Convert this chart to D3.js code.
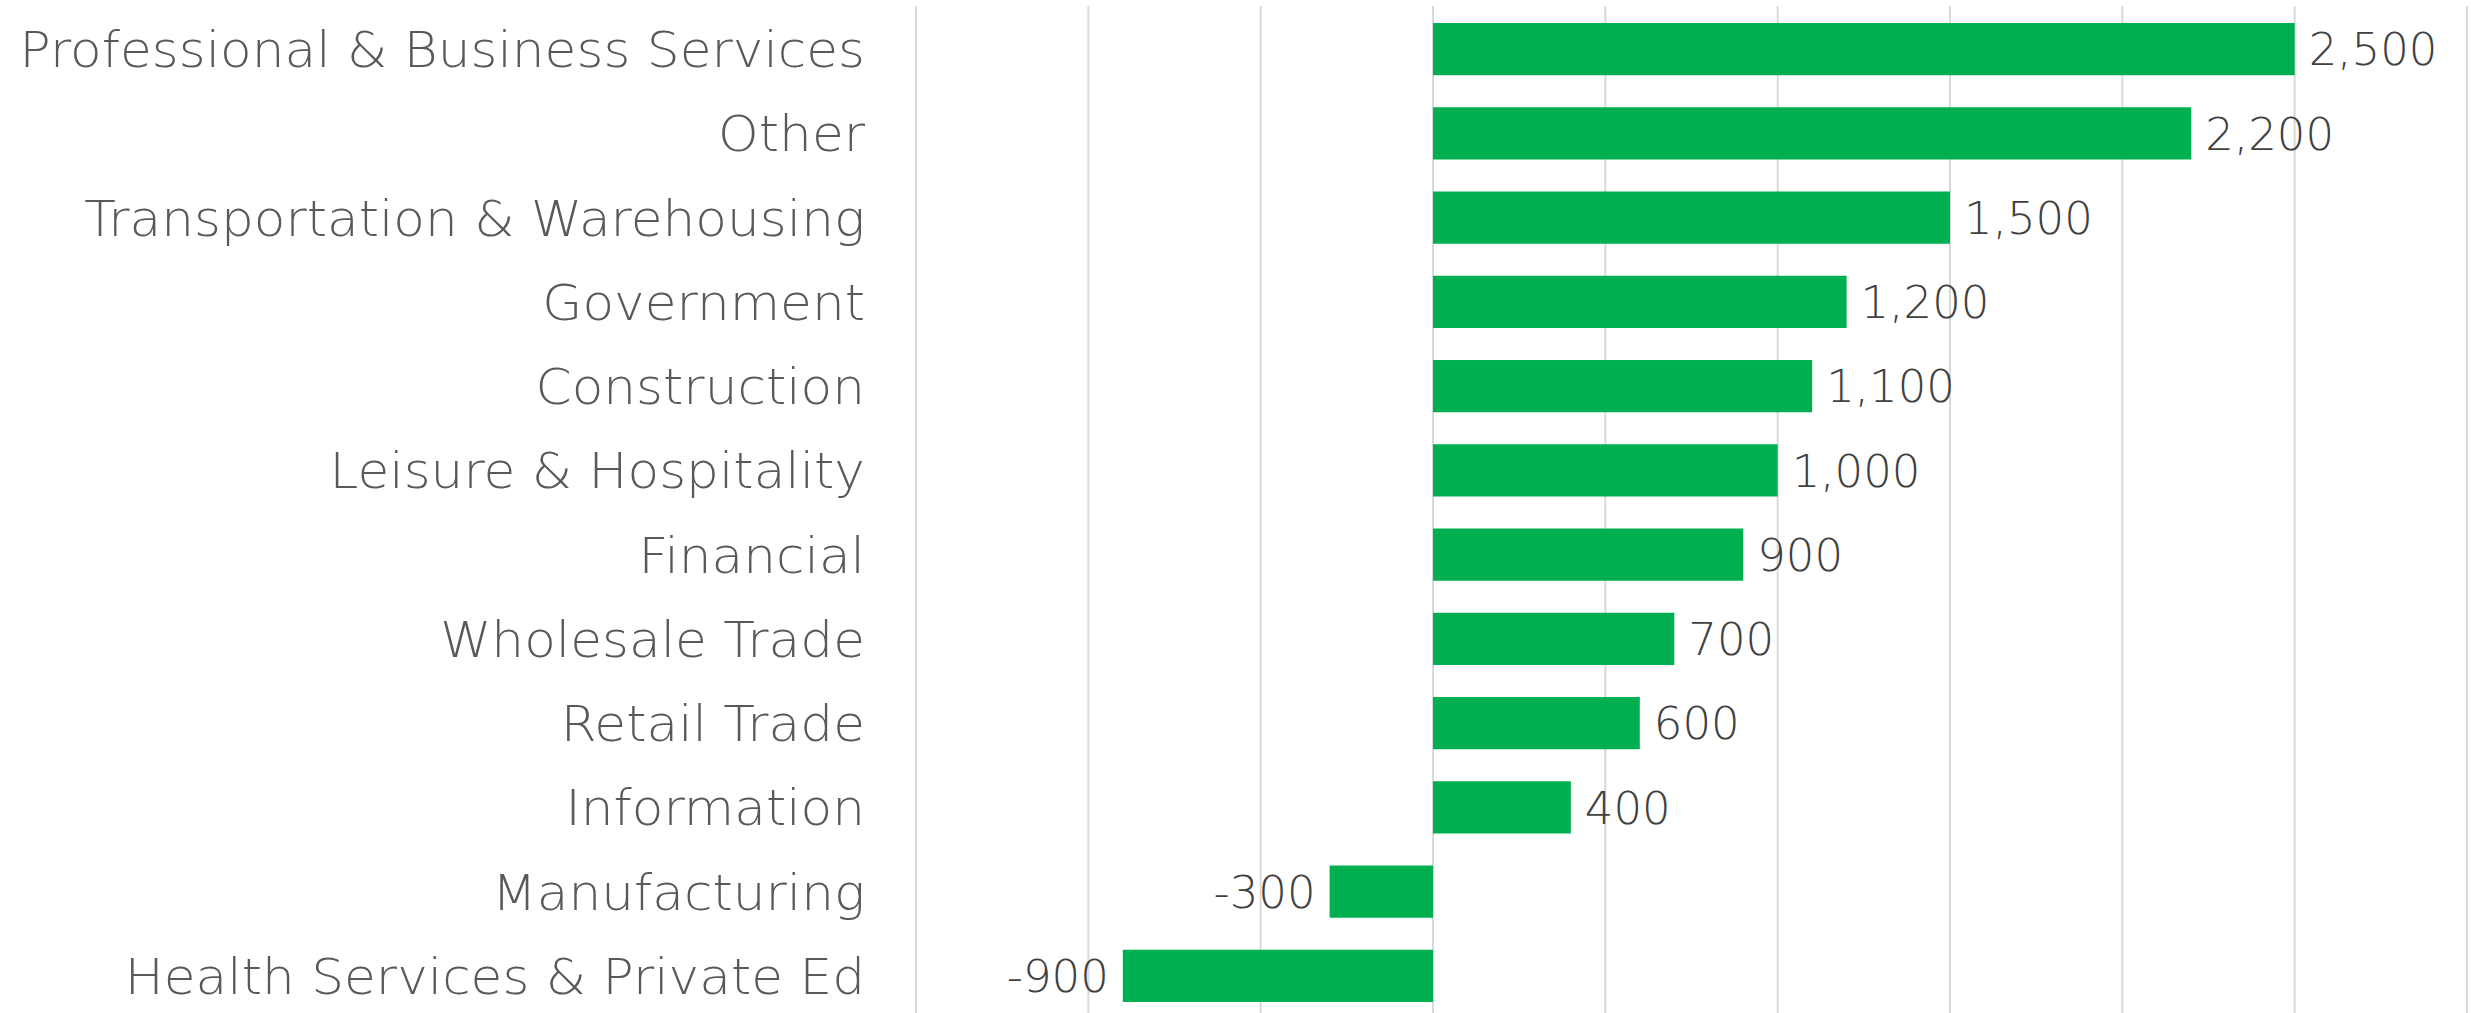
<!DOCTYPE html>
<html><head><meta charset="utf-8">
<script src="https://cdn.jsdelivr.net/npm/d3@7"></script>
<style>html,body{margin:0;padding:0;background:#fff;overflow:hidden}</style>
</head><body><svg id="c" width="2471" height="1013"></svg>
<script>
const categories = ["Professional & Business Services","Other","Transportation & Warehousing","Government","Construction","Leisure & Hospitality","Financial","Wholesale Trade","Retail Trade","Information","Manufacturing","Health Services & Private Ed"];
const values = [2500,2200,1500,1200,1100,1000,900,700,600,400,-300,-900];
const gridTicks = [-1500,-1000,-500,0,500,1000,1500,2000,2500,3000];

const svg = d3.select("#c");
const x = d3.scaleLinear().domain([-1500,3000]).range([916,2467]);
const y = d3.scaleBand().domain(categories).range([7,1018]).paddingInner(0.38).paddingOuter(0.19);
const fmt = d3.formatLocale({decimal:".",thousands:",",grouping:[3],currency:["$",""],minus:"-"}).format(",");
const FONT = "'DejaVu Sans', sans-serif";

svg.append("g").selectAll("line").data(gridTicks).join("line")
  .attr("x1",d=>x(d)).attr("x2",d=>x(d)).attr("y1",6).attr("y2",1013)
  .attr("stroke","#D9D9D9").attr("stroke-width",2);

svg.append("g").selectAll("rect").data(values).join("rect")
  .attr("x",d=>x(Math.min(0,d))).attr("width",d=>Math.abs(x(d)-x(0)))
  .attr("y",(d,i)=>y(categories[i])).attr("height",y.bandwidth())
  .attr("fill","#00B050");

svg.append("g").selectAll("text").data(categories).join("text")
  .attr("transform",d=>`translate(865,${y(d)+y.bandwidth()/2}) scale(1.035,1)`)
  .attr("dy","0.36em")
  .attr("text-anchor","end").attr("font-family",FONT).attr("font-weight",200)
  .attr("font-size",50).attr("fill","#595959").text(d=>d);

svg.append("g").selectAll("text").data(values).join("text")
  .attr("x",d=>d>=0? x(d)+14 : x(d)-14)
  .attr("y",(d,i)=>y(categories[i])+y.bandwidth()/2).attr("dy","0.36em")
  .attr("text-anchor",d=>d>=0?"start":"end").attr("font-family",FONT).attr("font-weight",200)
  .attr("font-size",45).attr("fill","#404040").text(d=>fmt(d));
</script></body></html>
